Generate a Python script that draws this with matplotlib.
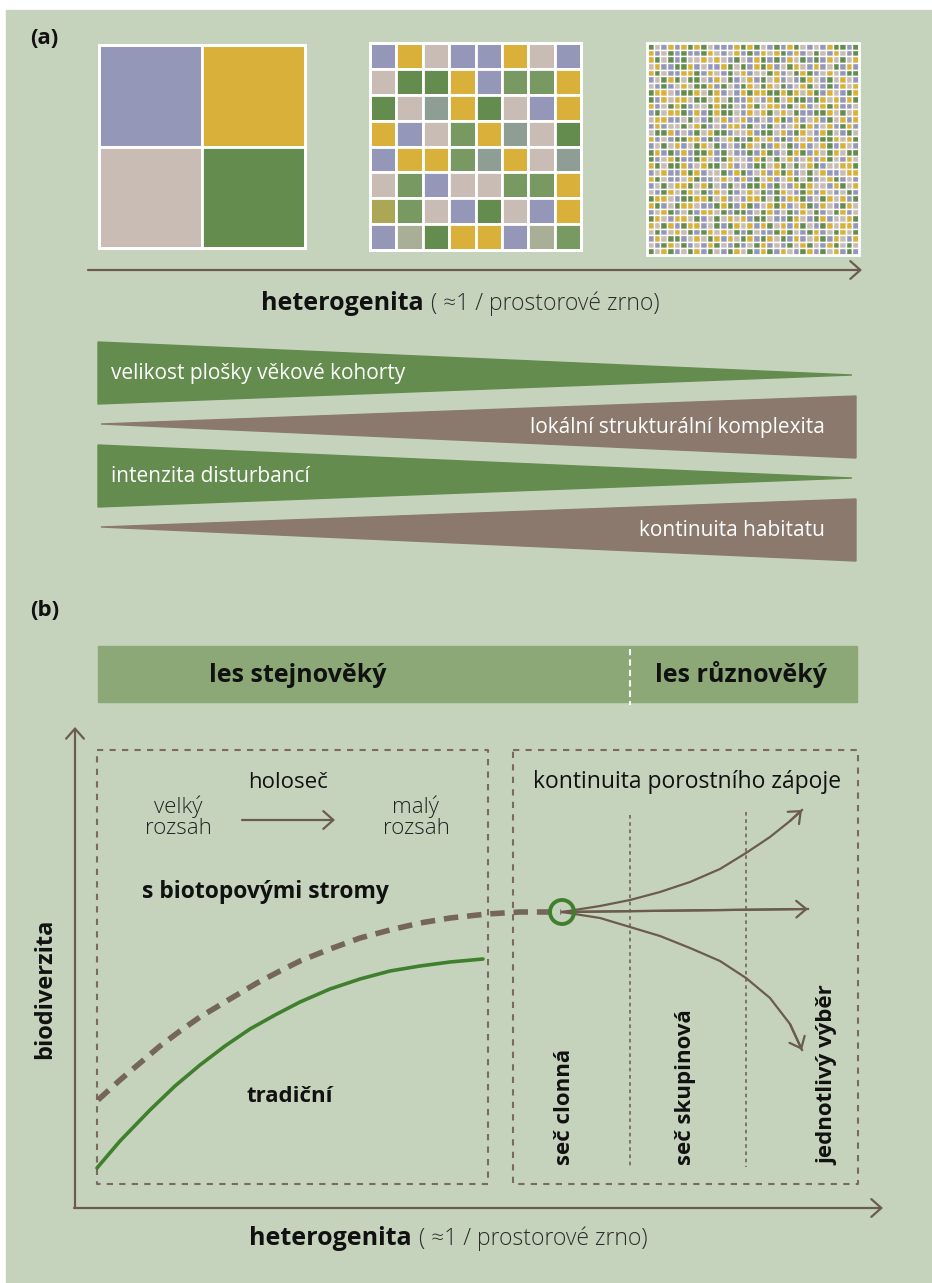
import matplotlib.pyplot as plt
import numpy as np
from matplotlib.patches import Rectangle, Polygon, Circle

plt.rcParams['font.family'] = ['Open Sans', 'DejaVu Sans']

# colours
BG = '#C5D3BC'
BROWN = '#6B5B50'
BOX = '#7A6A5F'
GREEN_LINE = '#3F7F2E'
WEDGE_GREEN = '#648C4E'
WEDGE_BROWN = '#8A796C'
BAND = '#8BA876'
TXT = '#222222'

cell_colours = {
    'P': '#9497B8', 'Y': '#D8B03A', 'B': '#C8BCB4', 'G': '#648C4E',
    'L': '#789A62', 'S': '#8F9E94', 'O': '#ACA754', 'Q': '#A9AF96',
}

# panel (a): three landscapes of decreasing grain
coarse_grid = ["PY", "BG"]
medium_grid = ["PYBPPYBP", "BGGYPLLY", "GBSYGBPY", "YPBLYSBG",
               "PYYLSYBS", "BLPBBLLY", "OLBPGBPY", "PQGYYPQL"]
fine_grid = [
    "GBPYPYGYGBPPPYGYGBPGPYGBPBPYGGPG", "YPBGPGPPGYBPBYPGPYBYGPYPBGBPYBPG",
    "YGBGPGBBYBYBPGBPYGPGPYBGPGPYBGBY", "BYPPGGYPBPPYGBGPYGYPBGYBPYPBGPYP",
    "YGBPPYYGPYBPGBYPBBGYPBGYGPBYBPGG", "PBGYGBGGBPYBGPBYPGBYPBPGYBPGBYBP",
    "BPGPBYBGGYPGBPGYBGYBGPBYGBPGPYBY", "GYYBPGGYBGYPBPYGYYGGYGYBYGPYBPGY",
    "GPYBYYBGGBYBGPPYBPYGBYGGPGYBYPYG", "YPBGYGPBBGYGGBPYGBYYPGBYPBYGYPPB",
    "PGBYYGPYPGYGGBPYBYGBYBGPPGGYBGBY", "BYYPPBGBPGBYPBYPPBPYGPYPBYPGBYPY",
    "PYPBBGBYGPBPYYPGBPGBPBYGYPBYPGYP", "BGGYPBPGBYGGPBBYPGGBYPGYBPYGBPGB",
    "YPBPGGYYPGPBYGPGYBYPGPYBYPGGYBYG", "PBGBYPBGYBGPBPGYBGPYBGPYPBYGPYBP",
    "GYPGPYPGGYPGBPPGPYGPBGYGPYBGYBGG", "GPBYGPPGYBPGYBBPYGBGBYPBYPYGBPYB",
    "YGBGGYPBYGGBYPBPGGBYGBGBYGPBBYYG", "PBYPPYGYPBBGPYGPBYPYGYPBGBYPPBYY",
    "YGBPPBYGPPBYBPYPGBYPBYGBGPBYGPBP", "PBGBYYGBYGBPGBPGGYPGBPYGYBBPYGBY",
    "BPGYBGYBGPYBGPBYBGPGYBPGYPYBPBGP", "GYYBPGGYYGBYPBPYYGBGPYYGPBGYBYPG",
    "YGPBGYYBPPGYGPYGPBYGYPBYGPYBPGYB", "PBYGPBGPYYBGPGGPBGYPBGPYBGPBGYPB",
    "GYBPYYBGPBGBYBYPGGBPPGYBPGYPBBYG", "YBGYPGYYPBGPGYBYPYGBYPYGBPGYBYYP",
    "BGPBYBGPGYBYBGPGBPPGYGBPGYPBGYBG", "PYBGGPBYBGYPYBGYPGYBGPYPBYGPYBPY",
    "BPGYBGPBPYGBPGPBGYPBPGBYGBPYGBGB", "GBYGPBGYPGBPGYBGPYGPYBPGYPGBYPGP",
]
grid_boxes = [(99, 45, 206, 203), (370, 43, 211, 207), (647, 43, 212, 212)]

# wedges: label, colour, wide at left?
wedge_labels = ['velikost plošky věkové kohorty', 'lokální strukturální komplexita',
                'intenzita disturbancí', 'kontinuita habitatu']
wedge_colours = [WEDGE_GREEN, WEDGE_BROWN, WEDGE_GREEN, WEDGE_BROWN]
wedge_wide_left = [True, False, True, False]
wedge_top = [342, 396, 445, 499]

# panel (b) curves
dashed_x = [98, 120, 140, 160, 180, 200, 230, 257, 280, 300, 330, 360, 390, 420, 450, 487, 520, 561]
dashed_y = [1100, 1080, 1063, 1046, 1031, 1017, 999, 983, 971, 961, 949, 938, 930, 923, 918, 914, 912, 912]
green_x = [97, 120, 150, 175, 200, 225, 250, 275, 300, 330, 360, 390, 420, 450, 483]
green_y = [1168, 1141, 1110, 1086, 1065, 1046, 1029, 1015, 1002, 989, 979, 971, 966, 962, 959]
fan_up_x = [562, 600, 630, 660, 690, 720, 746, 770, 790, 802]
fan_up_y = [912, 906, 900, 892, 882, 869, 853, 837, 821, 810]
fan_mid_x = [562, 808]
fan_mid_y = [912, 909]
fan_down_x = [562, 600, 630, 660, 690, 720, 746, 770, 790, 802]
fan_down_y = [912, 918, 927, 936, 948, 961, 978, 998, 1024, 1050]
cut_labels = ['seč clonná', 'seč skupinová', 'jednotlivý výběr']
cut_x = [565, 685, 828]

fig = plt.figure(figsize=(9.32, 12.83), dpi=100, facecolor='white')
ax = fig.add_axes([0, 0, 1, 1])
ax.set_xlim(0, 932)
ax.set_ylim(1283, 0)
ax.axis('off')
ax.add_patch(Rectangle((6, 10), 926, 1273, color=BG, zorder=0))


def arrow(x0, y0, x1, y1, lw=1.6, hl=0.36, hw=0.32):
    ax.annotate('', xy=(x1, y1), xytext=(x0, y0),
                arrowprops=dict(arrowstyle=f'->,head_length={hl},head_width={hw}',
                                lw=lw, color=BROWN, shrinkA=0, shrinkB=0,
                                mutation_scale=20))


# ---- (a) ----
ax.text(30, 38, '(a)', fontsize=16, fontweight='bold', va='center', color='#111')

for grid, (gx, gy, gw, gh) in zip([coarse_grid, medium_grid, fine_grid], grid_boxes):
    n = len(grid)
    cw, ch = gw / n, gh / n
    elw = 2.0 if n < 10 else 1.0
    for r, row in enumerate(grid):
        for c, key in enumerate(row):
            ax.add_patch(Rectangle((gx + c * cw, gy + r * ch), cw, ch,
                                   facecolor=cell_colours[key], edgecolor='white',
                                   lw=elw, zorder=2))
    ax.add_patch(Rectangle((gx, gy), gw, gh, fill=False, edgecolor='white', lw=2, zorder=3))

arrow(88, 270, 862, 270)
ax.text(261, 310, 'heterogenita', fontsize=18, fontweight='bold', color='#111', va='baseline')
ax.text(431, 310, '( ≈1 / prostorové zrno)', fontsize=16.5, fontweight='light', color='#2c2c2c', va='baseline')

for lab, col, wide, top in zip(wedge_labels, wedge_colours, wedge_wide_left, wedge_top):
    h = 62
    if wide:
        pts = [(98, top), (852, top + h / 2 + 2), (98, top + h)]
        ax.add_patch(Polygon(pts, closed=True, color=col, zorder=2))
        ax.text(111, top + h / 2, lab, fontsize=15, color='white', va='center', ha='left', zorder=3)
    else:
        pts = [(101, top + h / 2 - 3), (856, top), (856, top + h)]
        ax.add_patch(Polygon(pts, closed=True, color=col, zorder=2))
        ax.text(825, top + h / 2, lab, fontsize=15, color='white', va='center', ha='right', zorder=3)

# ---- (b) ----
ax.text(30, 610, '(b)', fontsize=16, fontweight='bold', va='center', color='#111')
ax.add_patch(Rectangle((98, 646), 759, 56, color=BAND, zorder=1))
ax.plot([630, 630], [649, 705], color='white', lw=1.5, ls=(0, (3, 2)), zorder=2)
ax.text(298, 675, 'les stejnověký', fontsize=18, fontweight='bold', ha='center', va='center', color='#111')
ax.text(741, 675, 'les různověký', fontsize=18, fontweight='bold', ha='center', va='center', color='#111')

# axes
arrow(75, 1208, 75, 727)
arrow(74, 1208, 883, 1208)
ax.text(45, 989, 'biodiverzita', fontsize=17, fontweight='bold', rotation=90,
        ha='center', va='center', color='#111')
ax.text(249, 1245, 'heterogenita', fontsize=18, fontweight='bold', color='#111', va='baseline')
ax.text(419, 1245, '( ≈1 / prostorové zrno)', fontsize=16.5, fontweight='light', color='#2c2c2c', va='baseline')

# dashed boxes
for x0, x1 in [(97, 488), (513, 858)]:
    ax.plot([x0, x1, x1, x0, x0], [750, 750, 1184, 1184, 750], color=BOX, lw=1.5,
            ls=(0, (3, 3)), zorder=2)

ax.text(288, 783, 'holoseč', fontsize=16, ha='center', va='center', color='#111')
ax.text(178, 817, 'velký\nrozsah', fontsize=16, fontweight='light', ha='center', va='center',
        color=TXT, linespacing=1.0)
ax.text(416, 817, 'malý\nrozsah', fontsize=16, fontweight='light', ha='center', va='center',
        color=TXT, linespacing=1.0)
arrow(242, 820, 335, 820, lw=1.6, hl=0.36, hw=0.32)
ax.text(142, 892, 's biotopovými stromy', fontsize=16.5, fontweight='bold', ha='left',
        va='center', color='#111')
ax.text(290, 1097, 'tradiční', fontsize=16, fontweight='bold', ha='center', va='center', color='#111')

ax.plot(dashed_x, dashed_y, color='#76655A', lw=4, ls=(0, (2.6, 1.6)), zorder=3)
ax.plot(green_x, green_y, color=GREEN_LINE, lw=2.6, zorder=3, solid_capstyle='round',
        solid_joinstyle='round')

# continuous cover section
ax.text(687, 782, 'kontinuita porostního zápoje', fontsize=16.5, ha='center', va='center', color='#111')
for xv, ytop in [(630, 815), (746, 812)]:
    ax.plot([xv, xv], [ytop, 1167], color=BOX, lw=1.3, ls=(0, (2, 2)), zorder=2)
for lab, xv in zip(cut_labels, cut_x):
    ax.text(xv, 1165, lab, fontsize=16, fontweight='bold', rotation=90, ha='center',
            va='bottom', color='#111')

for fx, fy in [(fan_up_x, fan_up_y), (fan_mid_x, fan_mid_y), (fan_down_x, fan_down_y)]:
    ax.plot(fx, fy, color=BROWN, lw=1.6, zorder=4, solid_joinstyle='round')
    ax.annotate('', xy=(fx[-1], fy[-1]), xytext=(fx[-2], fy[-2]),
                arrowprops=dict(arrowstyle='->,head_length=0.36,head_width=0.3', lw=1.6,
                                color=BROWN, shrinkA=0, shrinkB=0, mutation_scale=20), zorder=4)

ax.add_patch(Circle((562, 912), 12, fill=False, edgecolor=GREEN_LINE, lw=2.8, zorder=5))

fig.savefig('out.png', dpi=100, facecolor='white')
